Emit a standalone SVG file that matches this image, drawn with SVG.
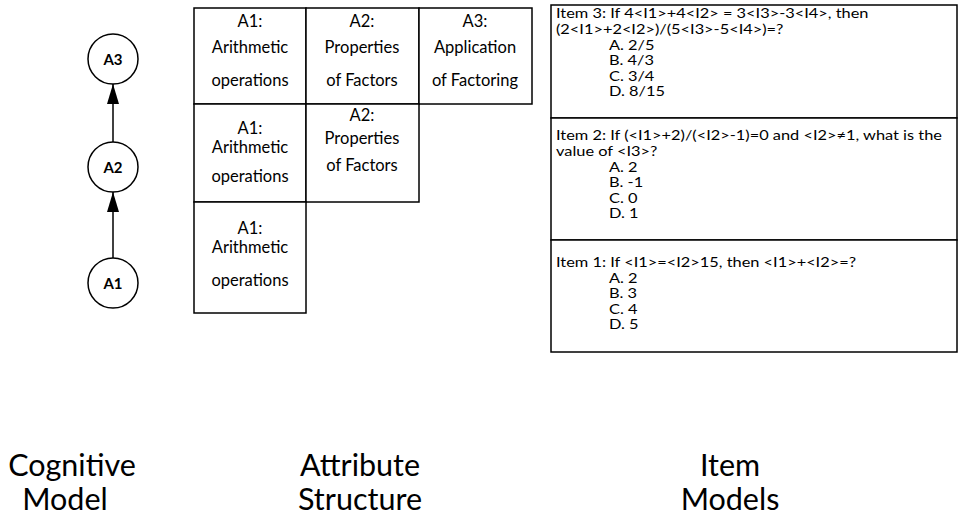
<svg xmlns="http://www.w3.org/2000/svg" width="961" height="520" viewBox="0 0 961 520">
<style>
.bg{fill:#fff}
.node circle{fill:#fff;stroke:#000;stroke-width:1.5}
.nl{font-family:Lato,"Liberation Sans",sans-serif;font-weight:bold;font-size:15px;text-anchor:middle;fill:#000}
.cell rect{fill:#fff;stroke:#000;stroke-width:1.5}
.ct{font-family:Lato,"Liberation Sans",sans-serif;font-size:16.5px;text-anchor:middle;fill:#000}
.item rect{fill:#fff;stroke:#000;stroke-width:1.5}
.it{font-family:Lato,"Liberation Sans",sans-serif;font-size:14px;fill:#000}
.cap{font-family:Lato,"Liberation Sans",sans-serif;font-size:30.5px;text-anchor:middle;fill:#000}
.conn line{stroke:#000;stroke-width:1.5}
</style>
<defs>
<marker id="ah" viewBox="0 0 20 12" refX="20" refY="6" markerWidth="20" markerHeight="12" markerUnits="userSpaceOnUse" orient="auto">
<path d="M0,0 L20,6 L0,12 z" fill="#000"/>
</marker>
</defs>
<rect class="bg" width="961" height="520"/>

<g id="connectors" class="conn">
<line x1="113" y1="258" x2="113" y2="192" marker-end="url(#ah)"/>
<line x1="113" y1="142" x2="113" y2="84" marker-end="url(#ah)"/>
</g>

<g id="A3" class="node"><circle cx="113" cy="59" r="25"/><text class="nl" x="113" y="64.5">A3</text></g>
<g id="A2" class="node"><circle cx="113" cy="167" r="25"/><text class="nl" x="113" y="172.5">A2</text></g>
<g id="A1" class="node"><circle cx="113" cy="283" r="25"/><text class="nl" x="113" y="288.5">A1</text></g>

<g id="cell-r1c1" class="cell"><rect x="194" y="8" width="112" height="96"/>
<text class="ct" x="250" y="27">A1:</text><text class="ct" x="250" y="53">Arithmetic</text><text class="ct" x="250" y="86">operations</text></g>
<g id="cell-r1c2" class="cell"><rect x="306" y="8" width="113" height="96"/>
<text class="ct" x="362" y="27">A2:</text><text class="ct" x="362" y="53">Properties</text><text class="ct" x="362" y="86">of Factors</text></g>
<g id="cell-r1c3" class="cell"><rect x="419" y="8" width="113" height="96"/>
<text class="ct" x="475" y="27">A3:</text><text class="ct" x="475" y="53">Application</text><text class="ct" x="475" y="86">of Factoring</text></g>
<g id="cell-r2c1" class="cell"><rect x="194" y="104" width="112" height="98"/>
<text class="ct" x="250" y="134">A1:</text><text class="ct" x="250" y="153">Arithmetic</text><text class="ct" x="250" y="182">operations</text></g>
<g id="cell-r2c2" class="cell"><rect x="306" y="104" width="113" height="98"/>
<text class="ct" x="362" y="121">A2:</text><text class="ct" x="362" y="144">Properties</text><text class="ct" x="362" y="171">of Factors</text></g>
<g id="cell-r3c1" class="cell"><rect x="194" y="202" width="112" height="111"/>
<text class="ct" x="250" y="234">A1:</text><text class="ct" x="250" y="253">Arithmetic</text><text class="ct" x="250" y="286">operations</text></g>

<g id="item3" class="item"><rect x="551" y="5" width="406" height="113"/>
<g transform="translate(556 0) scale(1.17 1)">
<text class="it" x="0" y="18">Item 3: If 4&lt;I1&gt;+4&lt;I2&gt; = 3&lt;I3&gt;-3&lt;I4&gt;, then</text>
<text class="it" x="0" y="34">(2&lt;I1&gt;+2&lt;I2&gt;)/(5&lt;I3&gt;-5&lt;I4&gt;)=?</text>
<text class="it" x="45.3" y="50">A. 2/5</text>
<text class="it" x="45.3" y="65.5">B. 4/3</text>
<text class="it" x="45.3" y="81">C. 3/4</text>
<text class="it" x="45.3" y="96.5">D. 8/15</text></g></g>
<g id="item2" class="item"><rect x="551" y="118" width="406" height="122"/>
<g transform="translate(556 0) scale(1.17 1)">
<text class="it" x="0" y="140">Item 2: If (&lt;I1&gt;+2)/(&lt;I2&gt;-1)=0 and &lt;I2&gt;≠1, what is the</text>
<text class="it" x="0" y="156">value of &lt;I3&gt;?</text>
<text class="it" x="45.3" y="172">A. 2</text>
<text class="it" x="45.3" y="187.5">B. -1</text>
<text class="it" x="45.3" y="203">C. 0</text>
<text class="it" x="45.3" y="218.5">D. 1</text></g></g>
<g id="item1" class="item"><rect x="551" y="240" width="406" height="112"/>
<g transform="translate(556 0) scale(1.17 1)">
<text class="it" x="0" y="267">Item 1: If &lt;I1&gt;=&lt;I2&gt;15, then &lt;I1&gt;+&lt;I2&gt;=?</text>
<text class="it" x="45.3" y="283">A. 2</text>
<text class="it" x="45.3" y="298.5">B. 3</text>
<text class="it" x="45.3" y="314">C. 4</text>
<text class="it" x="45.3" y="329.5">D. 5</text></g></g>

<g id="captions">
<text class="cap" x="72" y="476">Cognitive</text>
<text class="cap" x="65" y="510">Model</text>
<text class="cap" x="360" y="476">Attribute</text>
<text class="cap" x="360" y="510">Structure</text>
<text class="cap" x="730" y="476">Item</text>
<text class="cap" x="730" y="510">Models</text>
</g>
</svg>
